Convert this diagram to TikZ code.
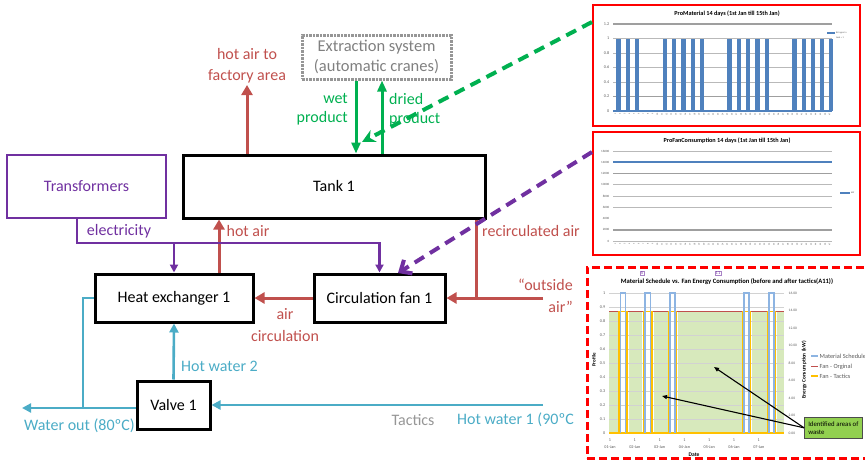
\documentclass[tikz,border=0pt]{standalone}
\usepackage{fontspec}
\setmainfont{Carlito}
\usetikzlibrary{arrows.meta}
\definecolor{cred}{RGB}{192,80,77}
\definecolor{cgreen}{RGB}{0,176,80}
\definecolor{cpurple}{RGB}{112,48,160}
\definecolor{cblue}{RGB}{75,172,198}
\definecolor{cgray}{RGB}{128,128,128}
\definecolor{ctact}{RGB}{150,150,150}
\definecolor{xlblue}{RGB}{79,129,189}
\definecolor{chred}{RGB}{255,0,0}
\definecolor{lgreen}{RGB}{215,233,188}
\definecolor{wgreen}{RGB}{146,208,80}
\definecolor{msblue}{RGB}{141,180,226}
\definecolor{fyellow}{RGB}{255,192,0}
\definecolor{axtxt}{RGB}{89,89,89}
\tikzset{
  lab/.style={font=\fontsize{16}{19}\selectfont, inner sep=0pt},
  blk/.style={draw=black, line width=3pt, inner sep=0pt, font=\fontsize{16}{19}\selectfont},
  redln/.style={draw=cred, line width=3pt},
  grnln/.style={draw=cgreen, line width=3pt},
  elecln/.style={draw=cpurple, line width=2.2pt},
  bluln/.style={draw=cblue, line width=2.6pt},
  bigtip/.style={-{Triangle[length=10pt,width=11pt]}},
  midtip/.style={-{Triangle[length=9pt,width=9pt]}},
  smalltip/.style={-{Triangle[length=8pt,width=8pt]}},
  tick/.style={font=\fontsize{4.2}{4.5}\selectfont, inner sep=0.5pt, text=axtxt},
  tinyrot/.style={font=\fontsize{2.3}{2.5}\selectfont, inner sep=0.3pt, rotate=90, anchor=east, text=axtxt},
  chtitle/.style={font=\bfseries\fontsize{6.2}{7}\selectfont, inner sep=0pt},
  legtxt/.style={font=\fontsize{6.3}{7}\selectfont, inner sep=0.5pt, anchor=west, text=axtxt},
}
\begin{document}
\begin{tikzpicture}[x=1pt,y=-1pt]
\useasboundingbox (0,0) rectangle (865,461);

% ---------------- main boxes ----------------
\node[blk, minimum width=302, minimum height=63] (tank) at (334,186.5) {Tank 1};
\node[draw=cpurple, line width=2.5pt, inner sep=0pt, minimum width=159, minimum height=63,
      text=cpurple, font=\fontsize{16}{19}\selectfont] (trans) at (86.5,186.5) {Transformers};
\node[draw=ctact, line width=3pt, dash pattern=on 2.5pt off 1pt, inner sep=0pt,
      minimum width=149, minimum height=44, text=cgray, align=center,
      font=\fontsize{16.5}{20}\selectfont] (ext) at (376.5,57) {Extraction system\\(automatic cranes)};
\node[blk, minimum width=158, minimum height=48] (hx) at (174,298) {Heat exchanger 1};
\node[blk, minimum width=131, minimum height=48] (fan) at (379.5,298) {Circulation fan 1};
\node[blk, minimum width=73, minimum height=48] (valve) at (173.5,405) {Valve 1};

% ---------------- coordinates ----------------
\coordinate (factory) at (247,85);
\coordinate (wetx) at (356,0);
\coordinate (dryx) at (382,0);
\coordinate (hax) at (219,0);
\coordinate (e0) at (77,243);
\coordinate (recx) at (476,298);
\coordinate (oa) at (543,298);
\coordinate (hxw) at (83,298);
\coordinate (wo) at (22,408);
\coordinate (hw1) at (543,405);
\coordinate (gsy) at (0,22);
\coordinate (gt) at (362,142);
\coordinate (psy) at (0,152);
\coordinate (ptip) at (398,273);

% ---------------- red air flows ----------------
\draw[redln, bigtip] (tank.north -| factory) -- (factory);
\node[lab, text=cred, align=center, font=\fontsize{16}{21}\selectfont] (facl) at (247,66) {hot air to\\factory area};
\draw[redln, bigtip] (hx.north -| hax) -- (tank.south -| hax);
\node[lab, text=cred] (hal) at (248,231) {hot air};
\draw[redln] (tank.south -| recx) -- (recx);
\draw[redln, bigtip] (oa) -- (fan.east);
\node[lab, text=cred, anchor=west] (recl) at (482,231) {recirculated air};
\node[lab, text=cred, align=right, anchor=east, font=\fontsize{16}{22}\selectfont] (oal) at (573,296) {“outside\\air”};
\draw[redln, bigtip] (fan.west) -- (hx.east);
\node[lab, text=cred, align=center, font=\fontsize{16}{22}\selectfont] (acl) at (285,325) {air\\circulation};

% ---------------- green product flows ----------------
\draw[grnln, -{Triangle[length=11pt,width=9pt]}] (ext.south -| wetx) -- (tank.north -| wetx);
\draw[grnln, -{Triangle[length=11pt,width=9pt]}] (tank.north -| dryx) -- (ext.south -| dryx);
\node[lab, text=cgreen, align=right, anchor=east] (wetl) at (348,109.5) {wet\\product};
\node[lab, text=cgreen, align=left, anchor=west] (dryl) at (389,109.5) {dried\\product};

% ---------------- electricity ----------------
\draw[elecln, smalltip] (trans.south -| e0) -- (e0) -| (fan.north);
\draw[elecln, smalltip] (hx.north |- e0) -- (hx.north);
\node[lab, text=cpurple] (ell) at (119,231) {electricity};

% ---------------- water ----------------
\draw[bluln] (hx.west) -| (hxw |- wo);
\draw[bluln, midtip] (valve.west |- wo) -- (wo);
\draw[bluln, midtip] (valve.north) -- (hx.south);
\draw[bluln, midtip] (hw1) -- (valve.east);
\node[lab, text=cblue, anchor=west] (hw2l) at (181,366) {Hot water 2};
\node[lab, text=cblue, anchor=west] (wol) at (24,426) {Water out (80ºC)};
\node[lab, text=ctact] (tacl) at (413,420) {Tactics};
\node[lab, text=cblue, anchor=west] (hw1l) at (457,420) {Hot water 1 (90ºC};

% ---------------- chart 1 ----------------
\node[draw=chred, line width=2pt, inner sep=0pt, minimum width=267, minimum height=121] (c1) at (726.5,65.5) {};
\node[chtitle] (t1) at (727,14) {ProMaterial 14 days (1st Jan till 15th Jan)};
\foreach \v/\l in {0.4/0.4,0.6/0.6,0.8/0.8,1.0/1}
  \draw[gray!55, line width=0.8pt] (613,{111-72.5*\v}) -- (832,{111-72.5*\v});
\foreach \v in {0.2,1.2}
  \draw[gray!75, line width=1.6pt] (613,{111-72.5*\v}) -- (832,{111-72.5*\v});
\foreach \v/\l in {0/0,0.2/0.2,0.4/0.4,0.6/0.6,0.8/0.8,1.0/1,1.2/1.2}
  \node[tick, anchor=east] at (610,{111-72.5*\v}) {\l};
\foreach \c in {618.3,627.7,637,664.7,673.7,683.3,692.7,701.7,729.3,738.7,748,757.3,766.7,794.3,803.7,812.7,822,831}
  \fill[xlblue] (\c-2.2,38.5) rectangle (\c+2.2,111);
\draw[xlblue, line width=2pt] (613,111) -- (832,111);
\foreach \i in {1,...,47}
  \node[tinyrot] at ({613+4.66*(\i-0.5)},113) {\i};
\draw[xlblue, line width=1.5pt] (827,33) -- (835,33);
\node[font=\fontsize{2.4}{3}\selectfont, anchor=west, inner sep=0.3pt, text=axtxt] at (835.5,33) {Br Ingen In};
\node[font=\fontsize{2.4}{3}\selectfont, anchor=west, inner sep=0.3pt, text=axtxt] at (835.5,38) {tank = 1};

% ---------------- chart 2 ----------------
\node[draw=chred, line width=2pt, inner sep=0pt, minimum width=267, minimum height=123] (c2) at (726.5,193.5) {};
\node[chtitle] (t2) at (727,141) {ProFanConsumption 14 days (1st Jan till 15th Jan)};
\foreach \k in {0,3,4,5,7,8}
  \draw[gray!55, line width=0.8pt] (613,{241-11.25*\k}) -- (832,{241-11.25*\k});
\foreach \k in {1,6}
  \draw[gray!75, line width=1.6pt] (613,{241-11.25*\k}) -- (832,{241-11.25*\k});
\foreach \k/\l in {0/0,1/2000,2/4000,3/6000,4/8000,5/10000,6/12000,7/14000,8/16000}
  \node[tick, anchor=east, font=\fontsize{3.2}{4}\selectfont] at (610,{241-11.25*\k}) {\l};
\draw[xlblue, line width=2pt] (613,162.25) -- (832,162.25);
\foreach \i in {1,...,47}
  \node[tinyrot] at ({613+4.66*(\i-0.5)},243) {\i};
\draw[xlblue, line width=2pt] (840,193) -- (850,193);
\node[font=\fontsize{2.4}{3}\selectfont, anchor=west, inner sep=0.3pt, text=axtxt] at (850.5,193) {kW};

% ---------------- chart 3 ----------------
\node[draw=chred, line width=3pt, dash pattern=on 8pt off 4pt, inner sep=0pt, minimum width=283, minimum height=191] (c3) at (728.5,362.5) {};
\node[chtitle, font=\bfseries\fontsize{6.6}{7.5}\selectfont] (t3) at (727,282) {Material Schedule vs. Fan Energy Consumption (before and after tactics(A11))};
\node[draw=cpurple!60, line width=0.4pt, text=cpurple, font=\fontsize{4.5}{4.5}\selectfont, inner sep=0.8pt] (m5) at (642,273) {5};
\node[draw=cpurple!60, line width=0.4pt, text=cpurple, font=\fontsize{4.5}{4.5}\selectfont, inner sep=0.8pt] (m11) at (718,273) {11};
\foreach \a/\b in {609/617.5,629/642,654/667.5,678/741.5,752/766.5,777/784}
  \fill[lgreen] (\a,311.2) rectangle (\b,433);
\foreach \k in {0,...,10}
  \draw[gray!35, line width=0.5pt] (609,{433-14*\k}) -- (784,{433-14*\k});
\draw[cred, line width=1pt] (609,311.2) -- (784,311.2);
\draw[fyellow, line width=1.1pt] (609,433) -- (784,433);
\foreach \a/\b in {619/627,643.5/652,668.5/676.5,742.5/750.5,767.5/775.5}
  \draw[fyellow, line width=1.1pt] (\a,433) -- (\a,311.2) -- (\b,311.2) -- (\b,433);
\foreach \a/\b in {620.5/625.5,645/650.5,670/675,744/749,769/774}
  \draw[msblue, line width=1.1pt] (\a,433) -- (\a,293) -- (\b,293) -- (\b,433);
\foreach \k/\l in {0/0,1/0.1,2/0.2,3/0.3,4/0.4,5/0.5,6/0.6,7/0.7,8/0.8,9/0.9,10/1}
  \node[tick, anchor=east] at (606,{433-14*\k}) {\l};
\foreach \k/\l in {0/0.00,1/2.00,2/4.00,3/6.00,4/8.00,5/10.00,6/12.00,7/14.00,8/16.00}
  \node[tick, anchor=west, font=\fontsize{3.6}{4}\selectfont] at (788,{433-17.5*\k}) {\l};
\foreach \k/\d in {0/01,1/02,2/03,3/04,4/05,5/06,6/07} {
  \node[tick] at ({610+24.8*\k},440) {1};
  \node[tick] at ({610+24.8*\k},447) {\d-Jan};
}
\node[font=\bfseries\fontsize{5.5}{6}\selectfont, inner sep=0pt] (datel) at (694,455) {Date};
\node[font=\bfseries\fontsize{5}{5.5}\selectfont, inner sep=0pt, rotate=90] (profl) at (594,360) {Profile};
\node[font=\bfseries\fontsize{5.3}{6}\selectfont, inner sep=0pt, rotate=90] (enl) at (804,370) {Energy Consumption (kW)};
\draw[msblue, line width=1.2pt] (811,356) -- (818,356);
\node[legtxt] (lg1) at (819,356) {Material Schedule};
\draw[cred, line width=1.2pt] (811,366.5) -- (818,366.5);
\node[legtxt] (lg2) at (819,366.5) {Fan - Orginal};
\draw[fyellow, line width=1.2pt] (811,376) -- (818,376);
\node[legtxt] (lg3) at (819,376) {Fan - Tactics};
\node[draw=black!70, fill=wgreen, line width=0.6pt, minimum width=58, minimum height=21, align=left,
      inner sep=1.5pt, font=\fontsize{6.8}{8}\selectfont, anchor=north west] (waste) at (804,417) {Identified areas of\\waste};
\coordinate (w1) at (662,396);
\coordinate (w2) at (714,367);
\draw[black, line width=1.1pt, -{Triangle[length=5pt,width=4pt]}] (waste.west) -- (w1);
\draw[black, line width=1.1pt, -{Triangle[length=5pt,width=4pt]}] (waste.west) -- (w2);

% ---------------- dashed link arrows ----------------
\draw[cgreen, line width=4pt, dash pattern=on 11pt off 7pt, -{Stealth[length=13pt,width=13pt]}] (c1.west |- gsy) -- (gt);
\draw[cpurple, line width=4pt, dash pattern=on 11pt off 7pt, -{Straight Barb[length=9pt,width=16pt]}] (c2.west |- psy) -- (ptip);
\end{tikzpicture}
\end{document}
